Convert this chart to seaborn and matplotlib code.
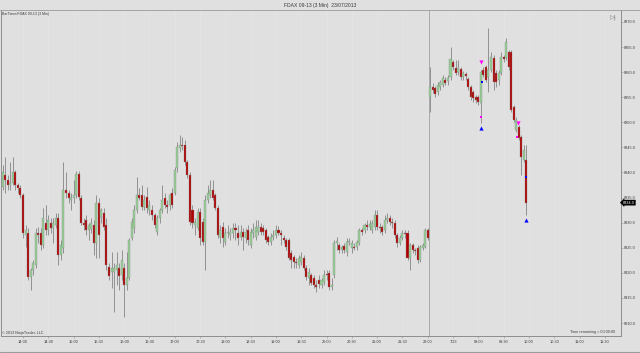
import numpy as np
import pandas as pd
import matplotlib
matplotlib.use("Agg")
import matplotlib.pyplot as plt
import matplotlib.transforms as mtransforms
import seaborn as sns

# ---------------- data (FDAX 09-13, 3 min bars) ----------------
opens = [8337.2, 8339.5, 8338.5, 8337.5, 8338.0, 8340.0, 8337.5, 8337.0, 8335.5, 8327.5,
         8328.0, 8319.2, 8320.5, 8321.5, 8328.0, 8328.0, 8325.6, 8330.0, 8328.6, 8330.0,
         8329.0, 8329.5, 8331.0, 8323.5, 8325.0, 8336.5, 8336.0, 8334.5, 8335.0, 8335.5,
         8339.7, 8335.0, 8330.0, 8330.5, 8328.5, 8328.8, 8329.6, 8326.0, 8334.0, 8331.2,
         8332.0, 8329.5, 8321.2, 8320.2, 8320.2, 8320.5, 8321.0, 8319.6, 8321.0, 8317.6,
         8319.0, 8327.0, 8329.0, 8332.6, 8335.5, 8335.5, 8333.2, 8335.2, 8332.6, 8332.6,
         8331.6, 8328.2, 8331.0, 8332.6, 8335.0, 8333.6, 8333.6, 8336.0, 8336.0, 8340.9,
         8344.9, 8345.5, 8345.5, 8342.1, 8339.5, 8332.6, 8329.6, 8329.0, 8332.2, 8330.2,
         8326.2, 8334.6, 8335.5, 8336.5, 8335.5, 8333.0, 8327.2, 8329.2, 8326.2, 8328.0,
         8327.6, 8328.0, 8329.0, 8328.0, 8327.2, 8328.2, 8327.0, 8328.6, 8325.6, 8328.0,
         8327.2, 8328.2, 8329.2, 8329.0, 8328.6, 8327.2, 8326.2, 8327.2, 8327.6, 8328.6,
         8328.0, 8327.0, 8326.6, 8326.6, 8324.0, 8323.2, 8322.2, 8321.6, 8322.2, 8323.0,
         8321.0, 8319.0, 8319.6, 8319.0, 8317.6, 8318.6, 8317.6, 8318.2, 8319.6, 8320.0,
         8317.2, 8319.6, 8326.0, 8325.6, 8324.6, 8325.4, 8324.2, 8326.2, 8325.0, 8325.2,
         8325.2, 8326.0, 8328.6, 8328.6, 8329.6, 8329.2, 8328.6, 8329.2, 8331.6, 8329.2,
         8329.2, 8328.6, 8330.6, 8331.0, 8330.2, 8330.0, 8327.6, 8326.0, 8327.0, 8328.0,
         8328.0, 8323.0, 8325.6, 8324.6, 8325.0, 8322.6, 8325.0, 8325.2, 8328.5,
         # 23/07 session
         8355.0, 8357.0, 8356.8, 8356.0, 8357.0, 8357.4, 8358.4, 8358.2, 8359.0, 8362.0,
         8360.8, 8360.0, 8360.6, 8359.0, 8359.6, 8358.6, 8357.0, 8356.0, 8355.0, 8355.0,
         8353.9, 8360.4, 8361.0, 8359.0, 8360.4, 8362.8, 8359.8, 8358.4, 8359.8, 8363.0,
         8362.8, 8364.0, 8364.0, 8353.1, 8348.5, 8349.1, 8347.1, 8342.5, 8342.5]
highs = [8341.5, 8343.1, 8339.5, 8342.1, 8343.1, 8340.5, 8338.0, 8337.5, 8336.0, 8329.5,
         8329.0, 8321.0, 8322.5, 8329.0, 8329.2, 8329.0, 8333.0, 8333.5, 8331.5, 8331.0,
         8331.0, 8332.0, 8332.0, 8326.5, 8342.1, 8340.0, 8336.5, 8336.0, 8338.5, 8340.2,
         8340.2, 8335.5, 8331.0, 8331.5, 8330.0, 8331.0, 8330.5, 8335.5, 8335.0, 8333.0,
         8333.0, 8331.0, 8322.0, 8324.2, 8322.0, 8324.2, 8322.0, 8324.6, 8322.0, 8324.2,
         8327.0, 8331.0, 8333.5, 8339.1, 8337.0, 8337.5, 8335.5, 8337.2, 8334.5, 8333.5,
         8332.0, 8331.5, 8333.0, 8337.5, 8336.0, 8334.5, 8336.0, 8337.0, 8341.0, 8346.0,
         8347.5, 8347.1, 8346.5, 8342.5, 8340.0, 8333.6, 8331.0, 8333.0, 8333.0, 8331.0,
         8335.5, 8337.5, 8338.5, 8338.5, 8336.0, 8333.5, 8329.5, 8330.2, 8329.0, 8329.5,
         8329.0, 8330.0, 8330.0, 8329.5, 8329.6, 8329.0, 8329.0, 8329.5, 8329.0, 8330.0,
         8330.6, 8330.5, 8330.0, 8329.5, 8329.0, 8327.5, 8328.0, 8328.5, 8329.6, 8329.4,
         8328.5, 8327.5, 8327.0, 8327.0, 8324.5, 8323.5, 8323.0, 8323.5, 8324.2, 8323.5,
         8321.5, 8321.0, 8320.0, 8319.5, 8318.5, 8319.5, 8319.0, 8320.5, 8320.6, 8320.5,
         8319.0, 8326.5, 8327.2, 8326.0, 8325.5, 8326.0, 8327.0, 8327.0, 8326.5, 8326.0,
         8326.5, 8329.0, 8329.0, 8330.0, 8330.5, 8330.5, 8330.5, 8332.6, 8332.6, 8330.0,
         8329.5, 8331.5, 8332.0, 8331.5, 8331.0, 8330.5, 8328.0, 8327.5, 8328.6, 8328.5,
         8328.5, 8326.0, 8326.0, 8325.0, 8325.5, 8325.5, 8326.0, 8329.0, 8329.0,
         8361.0, 8357.8, 8357.2, 8358.0, 8358.5, 8359.5, 8359.0, 8359.5, 8365.0, 8362.5,
         8362.4, 8362.4, 8361.0, 8360.2, 8360.0, 8359.0, 8357.5, 8356.5, 8355.5, 8355.5,
         8360.5, 8361.0, 8361.5, 8368.8, 8364.0, 8363.5, 8360.5, 8360.5, 8364.0, 8363.5,
         8366.8, 8364.5, 8364.5, 8353.5, 8351.0, 8349.5, 8347.5, 8345.5, 8345.5]
lows = [8336.5, 8336.0, 8336.5, 8336.5, 8337.5, 8336.5, 8336.0, 8335.0, 8327.0, 8325.2,
        8318.5, 8316.6, 8319.5, 8321.0, 8326.0, 8324.5, 8325.0, 8327.5, 8327.5, 8328.0,
        8326.0, 8329.0, 8321.5, 8322.5, 8324.0, 8335.0, 8334.0, 8332.6, 8334.0, 8335.0,
        8334.5, 8329.5, 8328.5, 8327.5, 8326.5, 8328.0, 8323.6, 8323.0, 8323.0, 8330.0,
        8328.5, 8320.5, 8318.5, 8317.0, 8312.2, 8317.6, 8316.6, 8318.5, 8311.1, 8316.5,
        8318.5, 8326.5, 8328.0, 8332.0, 8334.5, 8332.5, 8332.5, 8332.0, 8331.5, 8330.5,
        8329.0, 8327.6, 8330.0, 8332.0, 8333.0, 8332.0, 8332.5, 8333.0, 8335.5, 8340.0,
        8344.0, 8344.5, 8341.5, 8339.0, 8329.5, 8329.0, 8327.6, 8328.6, 8325.6, 8325.5,
        8320.6, 8334.0, 8335.0, 8334.5, 8332.5, 8327.0, 8326.0, 8325.2, 8325.5, 8327.0,
        8326.5, 8327.0, 8326.5, 8325.6, 8326.5, 8324.6, 8326.0, 8325.5, 8325.0, 8327.0,
        8326.5, 8327.5, 8327.5, 8327.5, 8326.0, 8325.5, 8325.5, 8326.5, 8327.0, 8327.5,
        8325.6, 8326.0, 8324.5, 8322.5, 8321.0, 8321.0, 8321.0, 8321.0, 8321.5, 8320.5,
        8318.5, 8317.6, 8317.5, 8317.0, 8316.2, 8317.0, 8317.0, 8317.5, 8318.5, 8316.6,
        8316.5, 8319.0, 8324.5, 8324.0, 8324.0, 8324.0, 8323.4, 8325.5, 8324.0, 8324.5,
        8324.5, 8325.5, 8327.5, 8328.0, 8328.5, 8328.5, 8328.0, 8328.5, 8328.5, 8328.0,
        8327.6, 8328.0, 8330.0, 8329.5, 8329.0, 8327.0, 8325.2, 8325.5, 8326.5, 8327.0,
        8322.5, 8320.6, 8324.0, 8323.5, 8322.0, 8322.2, 8324.5, 8325.0, 8326.5,
        8352.1, 8355.8, 8355.0, 8355.5, 8356.5, 8357.0, 8357.5, 8357.5, 8358.5, 8360.5,
        8359.5, 8359.5, 8358.5, 8358.5, 8358.5, 8356.5, 8354.5, 8354.0, 8353.8, 8353.5,
        8349.9, 8359.0, 8358.0, 8356.0, 8360.0, 8356.4, 8357.0, 8357.5, 8359.5, 8362.0,
        8362.5, 8360.5, 8352.0, 8350.0, 8348.0, 8346.5, 8339.5, 8342.0, 8331.5]
closes = [8340.0, 8338.5, 8337.5, 8338.0, 8340.0, 8337.5, 8337.0, 8335.5, 8328.0, 8328.5,
          8319.2, 8320.6, 8322.0, 8328.0, 8327.5, 8325.6, 8331.0, 8328.6, 8330.6, 8329.0,
          8330.0, 8331.0, 8323.6, 8325.5, 8336.5, 8336.0, 8335.0, 8335.0, 8335.5, 8339.7,
          8335.2, 8330.0, 8329.5, 8328.5, 8329.5, 8330.0, 8326.0, 8334.0, 8327.6, 8332.6,
          8329.2, 8321.5, 8319.4, 8321.0, 8321.0, 8321.5, 8319.4, 8322.6, 8317.6, 8319.0,
          8326.6, 8330.2, 8332.6, 8335.5, 8335.0, 8333.2, 8334.6, 8333.0, 8333.6, 8331.6,
          8329.6, 8331.0, 8332.6, 8334.6, 8333.6, 8333.2, 8335.5, 8333.6, 8340.5, 8345.1,
          8345.5, 8345.3, 8342.1, 8339.5, 8330.2, 8330.0, 8330.2, 8332.2, 8327.0, 8326.2,
          8334.6, 8336.0, 8336.5, 8335.0, 8333.0, 8327.6, 8328.6, 8327.0, 8328.0, 8328.2,
          8328.2, 8329.0, 8328.6, 8327.0, 8328.2, 8327.2, 8328.2, 8326.6, 8328.2, 8328.5,
          8329.2, 8329.2, 8328.2, 8328.2, 8326.6, 8326.2, 8327.2, 8327.5, 8328.6, 8328.0,
          8327.5, 8326.6, 8325.2, 8323.0, 8322.6, 8322.2, 8322.0, 8323.0, 8323.2, 8321.0,
          8319.2, 8320.2, 8318.0, 8317.6, 8317.2, 8317.8, 8318.6, 8319.6, 8319.5, 8317.2,
          8317.5, 8326.0, 8326.4, 8324.6, 8325.2, 8324.6, 8326.2, 8326.4, 8326.0, 8325.0,
          8326.2, 8328.6, 8328.2, 8329.6, 8329.2, 8329.8, 8330.0, 8331.6, 8329.2, 8329.0,
          8328.2, 8330.6, 8331.0, 8330.2, 8330.0, 8327.6, 8326.0, 8327.0, 8328.0, 8327.8,
          8323.0, 8325.6, 8324.6, 8324.4, 8322.6, 8325.2, 8325.6, 8328.6, 8327.0,
          8357.0, 8356.4, 8355.6, 8357.4, 8358.0, 8358.8, 8357.8, 8358.8, 8362.6, 8361.0,
          8359.8, 8360.8, 8359.0, 8359.8, 8359.2, 8357.0, 8355.0, 8354.8, 8354.5, 8354.0,
          8360.0, 8359.4, 8358.4, 8360.4, 8363.0, 8358.0, 8358.0, 8359.8, 8363.0, 8362.6,
          8366.0, 8361.0, 8352.5, 8350.5, 8350.5, 8346.9, 8343.1, 8344.5, 8334.0]

time_labels = ["14:00", "14:30", "15:00", "15:30", "16:00", "16:30", "17:00", "17:30",
               "18:00", "18:30", "19:00", "19:30", "20:00", "20:30", "21:00", "21:30",
               "22:00", "7/23", "09:00", "09:30", "10:00", "10:30", "11:00", "11:30"]
time_label_bar = [8, 18, 28, 38, 48, 58, 68, 78, 88, 98, 108, 118, 128, 138, 148, 158,
                  168, 178, 188, 198, 208, 218, 228, 238]
price_ticks = [8310.0, 8315.0, 8320.0, 8325.0, 8330.0, 8335.0, 8340.0, 8345.0,
               8350.0, 8355.0, 8360.0, 8365.0, 8370.0]
last_price = 8334.0
session_break_bar = 168.5

# signal markers (bar, price)
mag_arrow_bar = [189, 203.6]
mag_arrow_price = [8362.0, 8349.9]
mag_dot_bar = [189, 203.4]
mag_dot_price = [8351.1, 8347.1]
blue_arrow_bar = [189, 207]
blue_arrow_price = [8348.9, 8330.5]
blue_dot_bar = [189.5, 207]
blue_dot_price = [8358.0, 8339.1]

# ---------------- figure ----------------
BG = "#e0e0e0"
GRAY = "#8e8e8e"
TXT = "#3a3a3a"
sns.set_theme(style="white")
plt.rcParams["font.family"] = ["Liberation Sans", "DejaVu Sans"]

df = pd.DataFrame({"open": opens, "high": highs, "low": lows, "close": closes})
df["bar"] = np.arange(len(df))
df["up"] = df["close"] >= df["open"]

W, H = 640, 353
fig = plt.figure(figsize=(W / 100, H / 100), dpi=100, facecolor=BG)
ax = fig.add_axes([1 / W, 1 - 336 / H, 619.5 / W, 326 / H])
ax.set_facecolor(BG)

# very faint grid
for b in time_label_bar:
    ax.axvline(b, color="#e5e5e5", lw=0.5, zorder=0)
ax.axvline(session_break_bar, color="#a8a8a8", lw=0.7, zorder=0.5)

# wicks
ax.vlines(df["bar"], df["low"], df["high"], color="#8c8c8c", lw=0.65, zorder=1)
# bodies
body_bottom = np.minimum(df["open"], df["close"])
body_h = np.maximum(np.abs(df["close"] - df["open"]), 0.18)
colors = np.where(df["up"], "#96d096", "#b00000")
ax.bar(df["bar"], body_h, bottom=body_bottom, width=0.8, color=colors,
       edgecolor="#888888", linewidth=0.25, zorder=2)

# signal markers
sig = pd.DataFrame({
    "bar": mag_arrow_bar + mag_dot_bar + blue_arrow_bar + blue_dot_bar,
    "price": mag_arrow_price + mag_dot_price + blue_arrow_price + blue_dot_price,
    "kind": ["ma"] * 2 + ["md"] * 2 + ["ba"] * 2 + ["bd"] * 2,
})
sns.scatterplot(data=sig[sig.kind == "ma"], x="bar", y="price", marker="v", color="#ff00ff",
                s=9, linewidth=0, ax=ax, zorder=3, legend=False)
sns.scatterplot(data=sig[sig.kind == "md"], x="bar", y="price", marker="s", color="#ff00ff",
                s=3, linewidth=0, ax=ax, zorder=3, legend=False)
sns.scatterplot(data=sig[sig.kind == "ba"], x="bar", y="price", marker="^", color="#0000ff",
                s=9, linewidth=0, ax=ax, zorder=3, legend=False)
sns.scatterplot(data=sig[sig.kind == "bd"], x="bar", y="price", marker="s", color="#0000ff",
                s=3, linewidth=0, ax=ax, zorder=3, legend=False)

ax.set_xlim(-0.7, 244.2)
ax.set_ylim(8307.41, 8372.39)
ax.set_xlabel("")
ax.set_ylabel("")

ax.set_xticks(time_label_bar)
ax.set_xticklabels(time_labels)
ax.yaxis.tick_right()
ax.set_yticks(price_ticks)
ax.set_yticklabels([f"{p:.1f}" for p in price_ticks])
ax.tick_params(axis="x", length=1.5, width=0.4, color=GRAY, labelsize=2.8,
               labelcolor=TXT, pad=1.2, direction="out", bottom=True)
ax.tick_params(axis="y", length=1.5, width=0.4, color=GRAY, labelsize=2.8,
               labelcolor=TXT, pad=1.0, direction="out", right=True, left=False)

for side in ["left", "right", "bottom"]:
    ax.spines[side].set_color(GRAY)
    ax.spines[side].set_linewidth(0.7)
ax.spines["top"].set_visible(False)

# last price tag
trans = mtransforms.blended_transform_factory(ax.transAxes, ax.transData)
ax.text(1.004, last_price, f"{last_price:.1f}", transform=trans, fontsize=2.8,
        color="white", va="center", ha="left", zorder=5,
        bbox=dict(boxstyle="larrow,pad=0.15", fc="black", ec="black", lw=0.3),
        clip_on=False)

# texts
fig.text(0.5, 1 - 5 / H, "FDAX 09-13 (3 Min)  23/07/2013", ha="center", va="center",
         fontsize=3.6, color=TXT)
fig.add_artist(plt.Line2D([0, 1], [1 - 9.5 / H, 1 - 9.5 / H], color="#9a9a9a", lw=0.6))
fig.add_artist(plt.Line2D([0, 1], [1 - 352.3 / H, 1 - 352.3 / H], color="#9a9a9a", lw=0.8))
fig.text(2 / W, 1 - 14.5 / H, "BarTimer/FDAX 09-13 (3 Min)", ha="left", va="center",
         fontsize=2.5, color=TXT)
fig.text(613 / W, 1 - 17 / H, "\u25b7|", ha="center", va="center", fontsize=4.5,
         color="#7a7a7a", family="DejaVu Sans")
fig.text(2 / W, 1 - 333 / H, "\u00a9 2013 NinjaTrader, LLC", ha="left", va="center",
         fontsize=2.7, color=TXT)
fig.text(615 / W, 1 - 332.5 / H, "Time remaining = 00:00:00", ha="right", va="center",
         fontsize=2.7, color=TXT)

fig.savefig("out.png", dpi=100, facecolor=BG)
